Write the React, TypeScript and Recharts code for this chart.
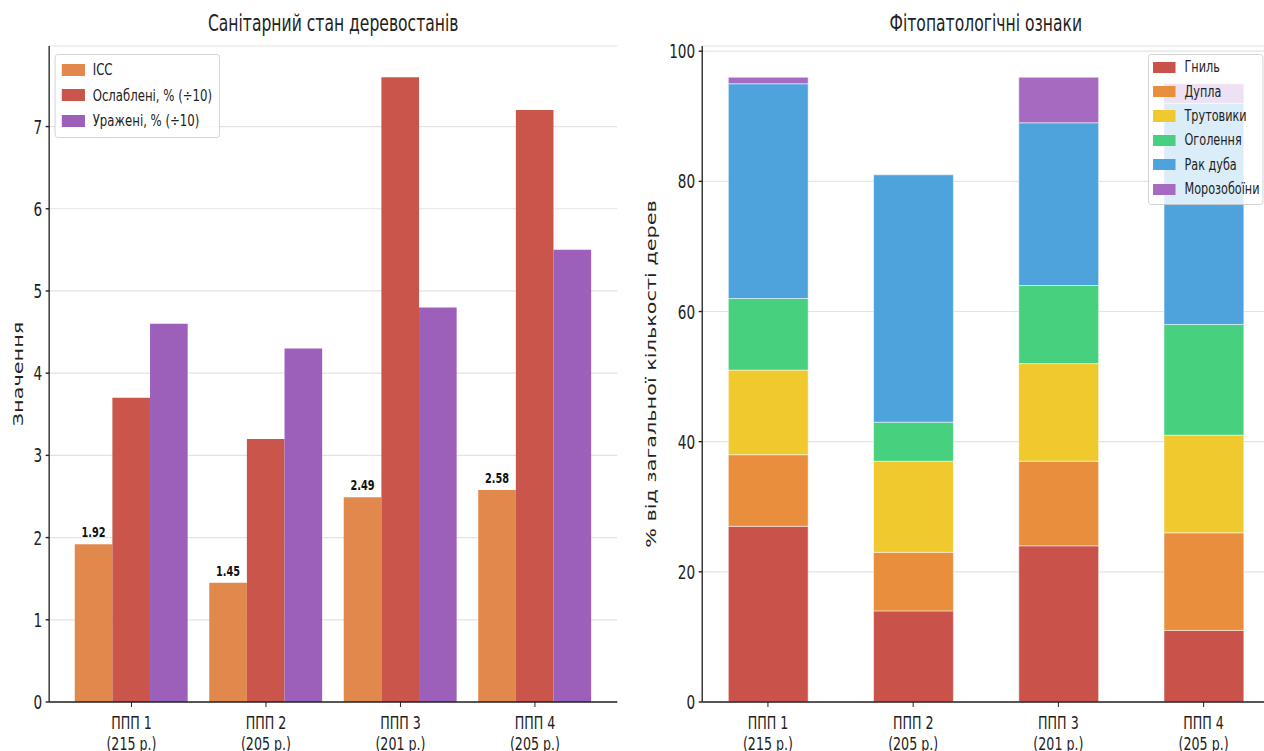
import React from 'react';
import { BarChart, Bar, XAxis, YAxis, CartesianGrid, Legend, LabelList } from 'recharts';

// ---------- data ----------
const sites = ['ППП 1', 'ППП 2', 'ППП 3', 'ППП 4'];
const treeCounts = ['(215 р.)', '(205 р.)', '(201 р.)', '(205 р.)'];

const iccValues = [1.92, 1.45, 2.49, 2.58];
const weakenedValues = [3.7, 3.2, 7.6, 7.2];
const affectedValues = [4.6, 4.3, 4.8, 5.5];

const rotValues = [27, 14, 24, 11];
const hollowValues = [11, 9, 13, 15];
const tinderValues = [13, 14, 15, 15];
const barkValues = [11, 6, 12, 17];
const cankerValues = [33, 38, 25, 34];
const frostValues = [1, 0, 7, 3];

const leftTicks = [0, 1, 2, 3, 4, 5, 6, 7];
const rightTicks = [0, 20, 40, 60, 80, 100];
const categoryTicks = [0, 1, 2, 3];

const leftSeries = [
  { key: 'icc', name: 'ІСС', color: '#E1884C' },
  { key: 'weakened', name: 'Ослаблені, % (÷10)', color: '#C9554B' },
  { key: 'affected', name: 'Уражені, % (÷10)', color: '#9D60BA' },
];
const rightSeries = [
  { key: 'rot', name: 'Гниль', color: '#C9534A' },
  { key: 'hollow', name: 'Дупла', color: '#E98E3C' },
  { key: 'tinder', name: 'Трутовики', color: '#F0C92E' },
  { key: 'bark', name: 'Оголення', color: '#47D07D' },
  { key: 'canker', name: 'Рак дуба', color: '#4EA3DD' },
  { key: 'frost', name: 'Морозобоїни', color: '#A66BC0' },
];

const leftRows = sites.map((_, i) => ({
  idx: i,
  icc: iccValues[i],
  weakened: weakenedValues[i],
  affected: affectedValues[i],
}));
const rightRows = sites.map((_, i) => ({
  idx: i,
  rot: rotValues[i],
  hollow: hollowValues[i],
  tinder: tinderValues[i],
  bark: barkValues[i],
  canker: cankerValues[i],
  frost: frostValues[i],
}));

// ---------- styling ----------
const SX = 1264 / 1800;
const FONT = '"DejaVu Sans", Verdana, sans-serif';
const TXT = '#222';
const AXIS = '#222';

const XTick = (props: any) => {
  const { x, y, payload } = props;
  const i = payload.value as number;
  return (
    <g>
      <text x={x} y={y + 17} textAnchor="middle" fontSize={18} fontFamily={FONT} fill={TXT}>
        {sites[i]}
      </text>
      <text x={x} y={y + 38} textAnchor="middle" fontSize={18} fontFamily={FONT} fill={TXT}>
        {treeCounts[i]}
      </text>
    </g>
  );
};

const YTick = (props: any) => {
  const { x, y, payload } = props;
  return (
    <text x={x} y={y} dy={7} textAnchor="end" fontSize={19.4} fontFamily={FONT} fill={TXT}>
      {payload.value}
    </text>
  );
};

const LegendBox = ({ items, fontSize, rowH, patchW, patchH, padL, gap, width, padT }: any) => (
  <div
    style={{
      width,
      boxSizing: 'border-box',
      border: '1px solid #cccccc',
      borderRadius: 4,
      background: 'rgba(255,255,255,0.8)',
      padding: `${padT}px 0 3px ${padL}px`,
    }}
  >
    {items.map((it: any) => (
      <div key={it.key} style={{ display: 'flex', alignItems: 'center', height: rowH }}>
        <span style={{ display: 'inline-block', width: patchW, height: patchH, background: it.color, marginRight: gap, flex: 'none' }} />
        <span style={{ fontSize, fontFamily: FONT, color: TXT, whiteSpace: 'nowrap', lineHeight: 1 }}>{it.name}</span>
      </div>
    ))}
  </div>
);

const BarValueLabel = (p: any) => {
  const { x, y, width, value } = p;
  return (
    <text x={x + width / 2} y={y - 7} textAnchor="middle" fontSize={13.9} fontWeight="bold" fontFamily={FONT} fill="#111">
      {Number(value).toFixed(2)}
    </text>
  );
};

const YLabel = ({ cx, cy, text }: any) => (
  <text
    x={cx}
    y={cy}
    transform={`rotate(-90, ${cx}, ${cy})`}
    textAnchor="middle"
    dominantBaseline="central"
    fontSize={20.8}
    fontFamily={FONT}
    fill={TXT}
  >
    {text}
  </text>
);

export default function App() {
  return (
    <div style={{ position: 'absolute', left: 0, top: 0, width: 1264, height: 751, overflow: 'hidden', background: '#fff' }}>
      <div
        style={{
          position: 'absolute',
          left: 0,
          top: 0,
          width: 1800,
          height: 751,
          transform: `scale(${SX}, 1)`,
          transformOrigin: '0 0',
        }}
      >
        {/* Left chart */}
        <div style={{ position: 'absolute', left: 0, top: 0 }}>
          <BarChart width={900} height={751} data={leftRows} margin={{ top: 46, right: 21, bottom: 0, left: 0 }} barGap={0}>
            <CartesianGrid vertical={false} stroke="#e3e3e3" strokeWidth={1.2} />
            <XAxis
              dataKey="idx"
              type="number"
              domain={[-0.612, 3.612]}
              ticks={categoryTicks}
              interval={0}
              height={49}
              tickSize={5}
              tickMargin={5}
              axisLine={{ stroke: AXIS, strokeWidth: 1.4 }}
              tickLine={{ stroke: AXIS, strokeWidth: 1.4 }}
              tick={<XTick />}
              allowDataOverflow
            />
            <YAxis
              type="number"
              domain={[0, 7.98]}
              ticks={leftTicks}
              interval={0}
              width={70}
              tickSize={5}
              tickMargin={5}
              axisLine={{ stroke: AXIS, strokeWidth: 1.9 }}
              tickLine={{ stroke: AXIS, strokeWidth: 1.4 }}
              tick={<YTick />}
              allowDataOverflow
              label={<YLabel cx={25.6} cy={374} text="Значення" />}
            />
            <Legend
              layout="vertical"
              align="center"
              verticalAlign="middle"
              wrapperStyle={{ left: 78, top: 54, width: 235 }}
              content={() => (
                <LegendBox items={leftSeries} fontSize={16.7} rowH={25.5} patchW={33} patchH={11.7} padL={9} gap={11} width={235} padT={2} />
              )}
            />
            {leftSeries.map((s) => (
              <Bar key={s.key} dataKey={s.key} name={s.name} fill={s.color} barSize={53.6} isAnimationActive={false}>
                {s.key === 'icc' ? <LabelList dataKey="icc" content={<BarValueLabel />} /> : null}
              </Bar>
            ))}
            <text x={474.5} y={31} textAnchor="middle" fontSize={22.2} fontFamily={FONT} fill={TXT}>
              Санітарний стан деревостанів
            </text>
          </BarChart>
        </div>

        {/* Right chart */}
        <div style={{ position: 'absolute', left: 900, top: 0 }}>
          <BarChart width={920} height={751} data={rightRows} margin={{ top: 46, right: 12.4, bottom: 0, left: 0 }}>
            <CartesianGrid vertical={false} stroke="#e3e3e3" strokeWidth={1.2} />
            <XAxis
              dataKey="idx"
              type="number"
              domain={[-0.4525, 3.4525]}
              ticks={categoryTicks}
              interval={0}
              height={49}
              tickSize={5}
              tickMargin={5}
              axisLine={{ stroke: AXIS, strokeWidth: 1.4 }}
              tickLine={{ stroke: AXIS, strokeWidth: 1.4 }}
              tick={<XTick />}
              allowDataOverflow
            />
            <YAxis
              type="number"
              domain={[0, 100.8]}
              ticks={rightTicks}
              interval={0}
              width={100}
              tickSize={5}
              tickMargin={5}
              axisLine={{ stroke: AXIS, strokeWidth: 1.9 }}
              tickLine={{ stroke: AXIS, strokeWidth: 1.4 }}
              tick={<YTick />}
              allowDataOverflow
              label={<YLabel cx={27} cy={374} text="% від загальної кількості дерев" />}
            />
            <Legend
              layout="vertical"
              align="center"
              verticalAlign="middle"
              wrapperStyle={{ left: 734.8, top: 54, width: 164 }}
              content={() => (
                <LegendBox items={rightSeries} fontSize={16} rowH={24.4} patchW={32} patchH={11.2} padL={6} gap={13} width={164} padT={0} />
              )}
            />
            {rightSeries.map((s) => (
              <Bar
                key={s.key}
                dataKey={s.key}
                name={s.name}
                stackId="a"
                fill={s.color}
                stroke="#ffffff"
                strokeWidth={0.6}
                barSize={113.7}
                isAnimationActive={false}
              />
            ))}
            <text x={503.8} y={31} textAnchor="middle" fontSize={22.2} fontFamily={FONT} fill={TXT}>
              Фітопатологічні ознаки
            </text>
          </BarChart>
        </div>
      </div>
    </div>
  );
}
